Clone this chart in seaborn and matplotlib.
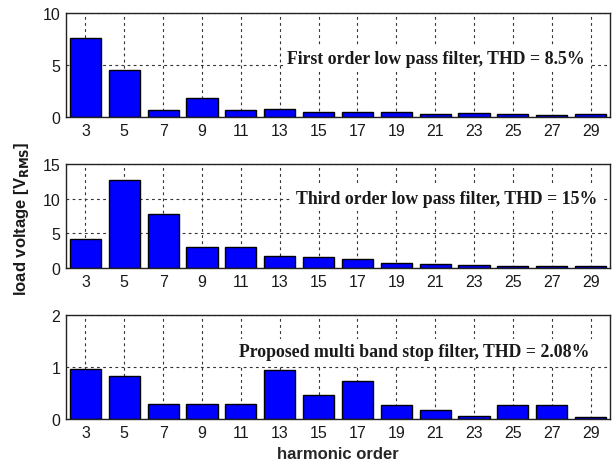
import matplotlib
matplotlib.use("Agg")
import matplotlib.pyplot as plt
import seaborn as sns
import pandas as pd

harmonics = [3, 5, 7, 9, 11, 13, 15, 17, 19, 21, 23, 25, 27, 29]
first_order = [7.55, 4.5, 0.7, 1.78, 0.7, 0.8, 0.48, 0.48, 0.48, 0.29, 0.38, 0.29, 0.19, 0.29]
third_order = [4.25, 12.65, 7.85, 3.1, 3.1, 1.77, 1.53, 1.25, 0.77, 0.62, 0.48, 0.24, 0.34, 0.24]
proposed = [0.97, 0.82, 0.29, 0.29, 0.29, 0.94, 0.47, 0.73, 0.26, 0.18, 0.06, 0.27, 0.27, 0.045]

titles = ["First order low pass filter, THD = 8.5%",
          "Third order low pass filter, THD = 15%",
          "Proposed multi band stop filter, THD = 2.08%"]
ylims = [10, 15, 2]
yticks = [[0, 5, 10], [0, 5, 10, 15], [0, 1, 2]]
text_pos = [(0.68, 0.56), (0.70, 0.67), (0.64, 0.645)]

sns.set_style("white")
plt.rcParams['font.family'] = ['Liberation Sans', 'DejaVu Sans']

W, H = 613, 464
fig = plt.figure(figsize=(W / 100, H / 100), dpi=100)
left = 66 / W
width = (610 - 66) / W
panels = [(14, 118), (165, 269), (316, 420)]

series = [first_order, third_order, proposed]
axes = []
for i, (vals, (top, bot)) in enumerate(zip(series, panels)):
    ax = fig.add_axes([left, 1 - bot / H, width, (bot - top) / H])
    df = pd.DataFrame({"harmonic": [str(h) for h in harmonics], "value": vals})
    sns.barplot(data=df, x="harmonic", y="value", order=[str(h) for h in harmonics],
                color="#0000ff", saturation=1, edgecolor="black", linewidth=1.0,
                width=0.8, ax=ax, zorder=3)
    ax.set_xlim(-0.5, len(harmonics) - 0.5)
    ax.set_ylim(0, ylims[i])
    ax.set_yticks(yticks[i])
    ax.grid(True, linestyle=(0, (2.5, 3)), color="#333333", linewidth=0.8, zorder=0)
    ax.set_axisbelow(True)
    ax.tick_params(axis="both", direction="in", length=3, labelsize=11.5, pad=4,
                   colors="#222222", labelcolor="#1a1a1a")
    for s in ax.spines.values():
        s.set_color("#222222")
        s.set_linewidth(1.0)
        s.set_zorder(5)
    ax.set_xlabel("")
    ax.set_ylabel("")
    tx, ty = text_pos[i]
    ax.text(tx, ty, titles[i], transform=ax.transAxes, ha="center", va="center",
            family=["Liberation Serif", "DejaVu Serif"], fontweight="bold", fontsize=12.8,
            color="#1a1a1a", zorder=4,
            bbox=dict(facecolor="white", edgecolor="none", pad=3))
    axes.append(ax)

axes[2].set_xlabel("harmonic order", fontsize=12, fontweight="bold", labelpad=5)
fig.text(22 / W, 1 - 219 / H, r"load voltage [V$_{\mathbf{RMS}}$]", rotation=90,
         ha="center", va="center", fontsize=12, fontweight="bold", color="#1a1a1a")

fig.savefig("out.png", dpi=100)
